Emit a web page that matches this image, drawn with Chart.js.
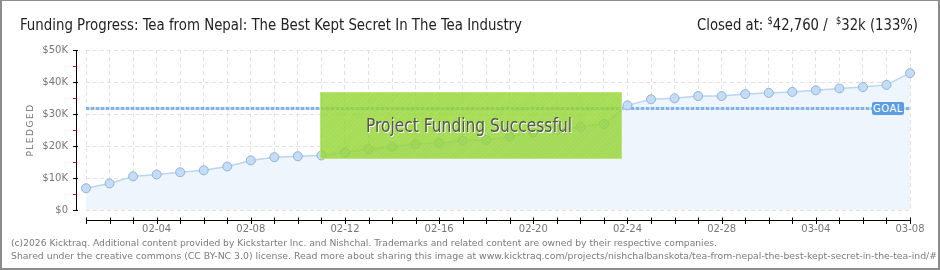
<!DOCTYPE html>
<html><head><meta charset="utf-8">
<script src="https://cdn.jsdelivr.net/npm/chart.js@4/dist/chart.umd.min.js"></script>
<style>
html,body{margin:0;padding:0;background:#fff;}
#wrap{position:relative;width:940px;height:270px;overflow:hidden;background:#fff;}
#frame{position:absolute;left:0;top:0;width:936px;height:267px;border:2px solid #8c8c8c;border-top:1px solid #8c8c8c;pointer-events:none;z-index:9}
canvas{position:absolute;left:0;top:0;}
.t{position:absolute;white-space:nowrap;transform-origin:0 0;}
#title{left:20px;top:17px;font:16px/16px 'Liberation Sans Narrow','DejaVu Sans Condensed',sans-serif;color:#222;}
#closed{left:697px;top:17px;font:16px/16px 'Liberation Sans Narrow','DejaVu Sans Condensed',sans-serif;color:#222;}
#closed sup{font-size:10px;vertical-align:6px;line-height:0;}
.foot{left:11px;font:9px/9px 'DejaVu Sans',sans-serif;color:#7a7a7a;}
#f1{top:239px}
#f2{top:252px}
#ytitle{position:absolute;left:0;top:125px;width:60px;height:10px;line-height:10px;text-align:center;font:9px/10px 'DejaVu Sans',sans-serif;letter-spacing:1.5px;color:#777;transform:rotate(-90deg);}
#success{position:absolute;left:320px;top:92px;width:300px;height:65px;background:rgba(148,212,50,0.82);border:1px solid rgba(190,230,120,0.9);z-index:4;
 background-image:repeating-linear-gradient(135deg,rgba(255,255,255,0.06) 0 1px,rgba(0,0,0,0) 1px 3px);}
#stext{left:365.7px;top:115.4px;font:20px/20px 'Liberation Sans Narrow','DejaVu Sans Condensed',sans-serif;color:#555;text-shadow:1px 1px 0 #fff;z-index:5}
#goal{position:absolute;left:872px;top:102px;width:32px;height:13px;background:#5b9de0;color:#fff;font:10px/13px 'DejaVu Sans',sans-serif;text-align:center;border-radius:2px;z-index:6;letter-spacing:0.5px}
</style>
</head><body>
<div id="wrap">
<canvas id="c" width="940" height="270"></canvas>
<div id="title" class="t">Funding Progress: Tea from Nepal: The Best Kept Secret In The Tea Industry</div>
<div id="closed" class="t">Closed at: <sup>$</sup>42,760 / &nbsp;<sup>$</sup>32k (133%)</div>
<div id="ytitle">PLEDGED</div>
<div id="success"></div>
<div id="stext" class="t">Project Funding Successful</div>
<div id="goal">GOAL</div>
<div id="f1" class="t foot">(c)2026 Kicktraq. Additional content provided by Kickstarter Inc. and Nishchal. Trademarks and related content are owned by their respective companies.</div>
<div id="f2" class="t foot">Shared under the creative commons (CC BY-NC 3.0) license. Read more about sharing this image at www.kicktraq.com/projects/nishchalbanskota/tea-from-nepal-the-best-kept-secret-in-the-tea-ind/#</div>
<div id="frame"></div>
</div>
<script>
const dates = ['02-01','02-02','02-03','02-04','02-05','02-06','02-07','02-08','02-09','02-10',
  '02-11','02-12','02-13','02-14','02-15','02-16','02-17','02-18','02-19','02-20',
  '02-21','02-22','02-23','02-24','02-25','02-26','02-27','02-28','03-01','03-02',
  '03-03','03-04','03-05','03-06','03-07','03-08'];
const pledged = [6800,8300,10500,11100,11800,12400,13600,15500,16500,16800,
  17050,18000,19000,19800,20600,20900,21700,21900,22900,24200,
  25000,26000,26900,32700,34600,34900,35600,35600,36250,36600,
  36900,37400,38000,38400,39100,42760];
const goal = 32000;
const yTickLabels = ['$0','$10K','$20K','$30K','$40K','$50K'];
const xLabelEvery = 4;

function fitWidth(id, w){
  const el = document.getElementById(id);
  const r = el.getBoundingClientRect().width;
  el.style.transform = 'scaleX(' + (w / r) + ')';
}
fitWidth('title', 502);
fitWidth('closed', 221);
fitWidth('stext', 206);
fitWidth('f1', 706);
fitWidth('f2', 926);

const axesPlugin = {
  id: 'axesPlugin',
  beforeDatasetDraw(chart){
    const {ctx, chartArea:a, scales:{y}} = chart;
    const gy = Math.round(y.getPixelForValue(goal)) + 0.5;
    ctx.save();
    ctx.lineWidth = 3;
    ctx.strokeStyle = '#c9def5';
    ctx.beginPath(); ctx.moveTo(a.left, gy); ctx.lineTo(a.right, gy); ctx.stroke();
    ctx.setLineDash([3,2]);
    ctx.strokeStyle = '#82b2e6';
    ctx.beginPath(); ctx.moveTo(a.left, gy); ctx.lineTo(a.right, gy); ctx.stroke();
    ctx.restore();
  },
  afterDraw(chart){
    const {ctx, chartArea:a, scales:{x,y}} = chart;
    ctx.save();
    ctx.lineWidth = 1;
    ctx.strokeStyle = '#000';
    const ax = Math.round(a.left - 10) + 0.5;
    ctx.beginPath(); ctx.moveTo(ax, Math.round(a.top)); ctx.lineTo(ax, Math.round(a.bottom)+1); ctx.stroke();
    for (let v = 0; v <= 50000; v += 5000){
      const py = Math.round(y.getPixelForValue(v)) + 0.5;
      const major = v % 10000 === 0;
      ctx.strokeStyle = major ? '#000' : '#e00000';
      ctx.beginPath(); ctx.moveTo(ax - 3.5, py); ctx.lineTo(major ? ax + 1.5 : ax, py); ctx.stroke();
    }
    const by = Math.round(a.bottom + 10) + 0.5;
    ctx.strokeStyle = '#000';
    ctx.beginPath(); ctx.moveTo(Math.round(a.left), by); ctx.lineTo(Math.round(a.right)+1, by); ctx.stroke();
    for (let i = 0; i < dates.length; i++){
      const px = Math.round(x.getPixelForValue(i)) + 0.5;
      ctx.beginPath(); ctx.moveTo(px, by - 3); ctx.lineTo(px, by + 3.5); ctx.stroke();
    }
    ctx.restore();
  }
};

new Chart(document.getElementById('c'), {
  type: 'line',
  data: {
    labels: dates,
    datasets: [{
      data: pledged,
      fill: 'origin',
      backgroundColor: '#eef5fd',
      borderColor: '#b9d5f2',
      borderWidth: 1.5,
      tension: 0,
      pointRadius: 4.5,
      pointBackgroundColor: '#c4dcf6',
      pointBorderColor: '#92b3da',
      pointBorderWidth: 1
    }]
  },
  options: {
    responsive: false,
    animation: false,
    devicePixelRatio: 1,
    layout: { padding: { left: 0, right: 30, top: 50, bottom: 0 } },
    plugins: { legend: { display: false }, tooltip: { enabled: false } },
    scales: {
      x: {
        type: 'category',
        offset: false,
        grid: { color: '#e2e2e2', lineWidth: 1, drawTicks: false, offset: false },
        border: { display: false, dash: [4,3] },
        ticks: {
          autoSkip: false, maxRotation: 0, minRotation: 0, padding: 13,
          color: '#777', font: { family: 'DejaVu Sans', size: 10 },
          callback: (v, i) => (i % xLabelEvery === xLabelEvery - 1) ? dates[i] : ''
        },
        afterFit(s){ s.height = 60; }
      },
      y: {
        min: 0, max: 50000,
        grid: { color: '#e2e2e2', lineWidth: 1, drawTicks: false },
        border: { display: false, dash: [4,3] },
        ticks: {
          stepSize: 10000, padding: 18,
          color: '#777', font: { family: 'DejaVu Sans', size: 10 },
          callback: (v) => yTickLabels[Math.round(v / 10000)]
        },
        afterFit(s){ s.width = 86; }
      }
    }
  },
  plugins: [axesPlugin]
});
</script>
</body></html>
